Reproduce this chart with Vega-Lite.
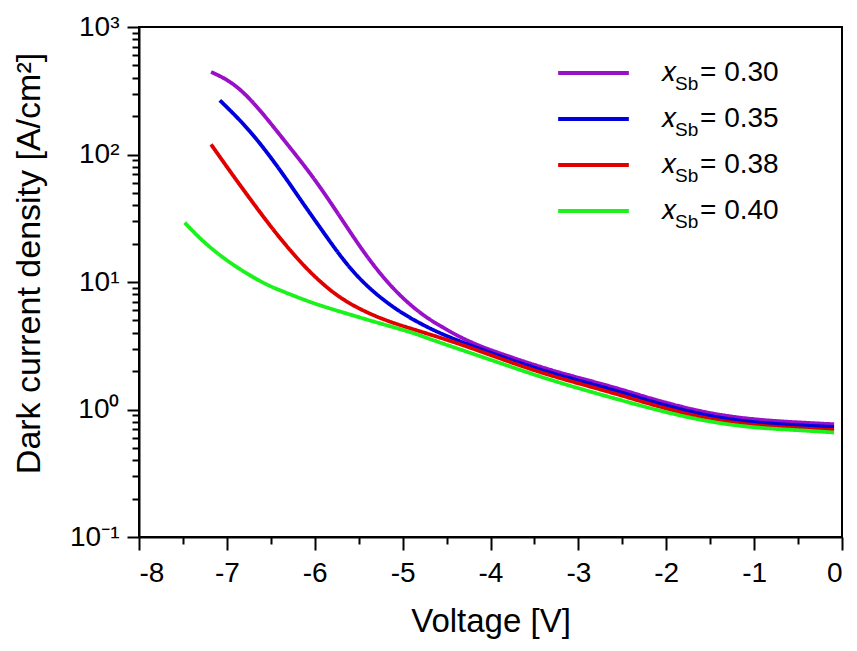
{
"$schema": "https://vega.github.io/schema/vega-lite/v6.json",
"autosize": "none",
"width": 703,
"height": 510,
"padding": {"left": 139, "top": 27, "right": 15, "bottom": 114},
"background": "white",
"config": {
  "font": "Liberation Sans",
  "view": {"stroke": "black", "strokeWidth": 2},
  "axis": {"domainColor": "black", "domainWidth": 2, "tickColor": "black", "tickWidth": 2, "grid": false, "labelColor": "black", "titleColor": "black", "labelFont": "Liberation Sans", "titleFont": "Liberation Sans", "titleFontWeight": "normal", "labelOverlap": false},
  "legend": {"orient": "none", "title": null, "padding": 0, "symbolType": "stroke", "symbolSize": 5000, "clipHeight": 28, "rowPadding": 18, "labelFont": "Liberation Sans", "labelColor": "black"}
},
"data": {"values": [
{"s":"0.30","V":-7.18,"J":444},{"s":"0.30","V":-6.95,"J":375},{"s":"0.30","V":-6.70,"J":262},{"s":"0.30","V":-6.32,"J":122},{"s":"0.30","V":-6.015,"J":66.7},{"s":"0.30","V":-5.71,"J":32.4},{"s":"0.30","V":-5.41,"J":15.7},{"s":"0.30","V":-5.10,"J":8.6},{"s":"0.30","V":-4.80,"J":5.65},{"s":"0.30","V":-4.57,"J":4.5},{"s":"0.30","V":-4.23,"J":3.33},{"s":"0.30","V":-3.80,"J":2.62},{"s":"0.30","V":-3.32,"J":2.03},{"s":"0.30","V":-2.75,"J":1.6},{"s":"0.30","V":-2.41,"J":1.37},{"s":"0.30","V":-2.18,"J":1.22},{"s":"0.30","V":-1.61,"J":0.955},{"s":"0.30","V":-1.04,"J":0.834},{"s":"0.30","V":-0.47,"J":0.79},{"s":"0.30","V":-0.09,"J":0.766},
{"s":"0.35","V":-7.08,"J":266},{"s":"0.35","V":-6.74,"J":157},{"s":"0.35","V":-6.394,"J":76},{"s":"0.35","V":-6.166,"J":44.5},{"s":"0.35","V":-5.901,"J":24.5},{"s":"0.35","V":-5.634,"J":13.5},{"s":"0.35","V":-5.369,"J":8.7},{"s":"0.35","V":-5.065,"J":6.0},{"s":"0.35","V":-4.80,"J":4.72},{"s":"0.35","V":-4.57,"J":3.94},{"s":"0.35","V":-4.23,"J":3.18},{"s":"0.35","V":-3.80,"J":2.49},{"s":"0.35","V":-3.32,"J":1.93},{"s":"0.35","V":-2.75,"J":1.52},{"s":"0.35","V":-2.41,"J":1.3},{"s":"0.35","V":-2.18,"J":1.16},{"s":"0.35","V":-1.61,"J":0.91},{"s":"0.35","V":-1.04,"J":0.79},{"s":"0.35","V":-0.47,"J":0.75},{"s":"0.35","V":-0.09,"J":0.73},
{"s":"0.38","V":-7.18,"J":120},{"s":"0.38","V":-6.89,"J":62.4},{"s":"0.38","V":-6.55,"J":30.1},{"s":"0.38","V":-6.394,"J":22},{"s":"0.38","V":-6.166,"J":14.3},{"s":"0.38","V":-5.901,"J":9.44},{"s":"0.38","V":-5.634,"J":6.86},{"s":"0.38","V":-5.255,"J":5.14},{"s":"0.38","V":-4.876,"J":4.25},{"s":"0.38","V":-4.57,"J":3.66},{"s":"0.38","V":-4.23,"J":3.06},{"s":"0.38","V":-3.80,"J":2.38},{"s":"0.38","V":-3.32,"J":1.84},{"s":"0.38","V":-2.75,"J":1.44},{"s":"0.38","V":-2.41,"J":1.23},{"s":"0.38","V":-2.18,"J":1.1},{"s":"0.38","V":-1.61,"J":0.86},{"s":"0.38","V":-1.04,"J":0.75},{"s":"0.38","V":-0.47,"J":0.71},{"s":"0.38","V":-0.09,"J":0.69},
{"s":"0.40","V":-7.48,"J":29.2},{"s":"0.40","V":-7.27,"J":20.6},{"s":"0.40","V":-6.96,"J":13.9},{"s":"0.40","V":-6.58,"J":9.7},{"s":"0.40","V":-6.394,"J":8.6},{"s":"0.40","V":-6.015,"J":6.77},{"s":"0.40","V":-5.634,"J":5.65},{"s":"0.40","V":-5.255,"J":4.72},{"s":"0.40","V":-4.876,"J":4.0},{"s":"0.40","V":-4.686,"J":3.55},{"s":"0.40","V":-4.23,"J":2.78},{"s":"0.40","V":-3.80,"J":2.2},{"s":"0.40","V":-3.32,"J":1.7},{"s":"0.40","V":-2.75,"J":1.31},{"s":"0.40","V":-2.41,"J":1.13},{"s":"0.40","V":-2.18,"J":1.02},{"s":"0.40","V":-1.61,"J":0.82},{"s":"0.40","V":-1.04,"J":0.72},{"s":"0.40","V":-0.47,"J":0.687},{"s":"0.40","V":-0.09,"J":0.66}
]},
"mark": {"type": "line", "strokeWidth": 3.8, "interpolate": "basis"},
"encoding": {
  "x": {"field": "V", "type": "quantitative", "scale": {"domain": [-8, 0], "nice": false, "zero": false},
    "axis": {"title": "Voltage [V]", "values": [-8,-7.5,-7,-6.5,-6,-5.5,-5,-4.5,-4,-3.5,-3,-2.5,-2,-1.5,-1,-0.5,0],
      "labelExpr": "datum.value % 1 == 0 ? toString(datum.value) : ''",
      "tickSize": {"condition": {"test": "datum.value % 1 == 0", "value": 13}, "value": 7},
      "labelFontSize": 28, "labelPadding": 9, "titleFontSize": 33, "titlePadding": 18}},
  "y": {"field": "J", "type": "quantitative", "scale": {"type": "log", "domain": [0.1, 1000], "nice": false},
    "axis": {"title": "Dark current density [A/cm²]",
      "values": [0.1,0.2,0.3,0.4,0.5,0.6,0.7,0.8,0.9,1,2,3,4,5,6,7,8,9,10,20,30,40,50,60,70,80,90,100,200,300,400,500,600,700,800,900,1000],
      "labelExpr": "datum.value==1000?'10³':datum.value==100?'10²':datum.value==10?'10¹':datum.value==1?'10⁰':datum.value==0.1?'10⁻¹':''",
      "tickSize": {"condition": {"test": "indexof([0.1,1,10,100,1000], datum.value) >= 0", "value": 12}, "value": 7},
      "labelFontSize": 28, "labelPadding": 8, "titleFontSize": 34, "titlePadding": 23, "titleY": 236}},
  "color": {"field": "s", "type": "nominal",
    "scale": {"domain": ["0.30","0.35","0.38","0.40"], "range": ["#9A0FC8","#0000DD","#E10000","#1BF21B"]},
    "legend": {"legendX": 417, "legendY": 32, "symbolStrokeWidth": 4,
      "labelFontSize": 28, "labelOffset": 30, "labelExpr": "'𝑥'"}},
  "opacity": {"field": "s", "type": "nominal", "scale": {"range": [1, 1]},
    "legend": {"legendX": 417, "legendY": 43, "symbolStrokeWidth": 0, "symbolOpacity": 0,
      "labelFontSize": 19, "labelOffset": 48, "labelExpr": "'Sb'"}},
  "strokeDash": {"field": "s", "type": "nominal", "sort": {"field": "J", "op": "max", "order": "descending"},
    "scale": {"range": [[1, 0], [1, 0], [1, 0], [1, 0]]},
    "legend": {"legendX": 417, "legendY": 32, "symbolStrokeWidth": 0, "symbolOpacity": 0,
      "labelFontSize": 28, "labelOffset": 73, "labelExpr": "'= ' + datum.label"}}
}
}
